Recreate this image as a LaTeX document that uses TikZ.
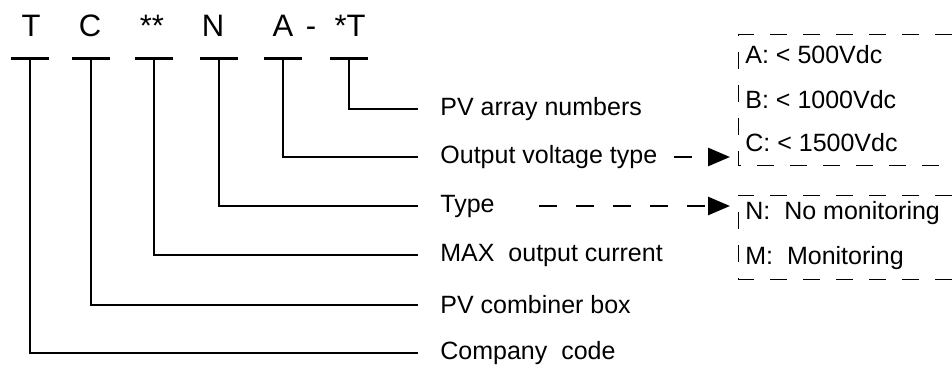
\documentclass[tikz,border=0pt]{standalone}
\usepackage{fontspec}
\setmainfont{Liberation Sans}
\usetikzlibrary{arrows.meta,positioning}
\tikzset{
  bar/.style={line width=1.5pt},
  lead/.style={line width=1.1pt},
  code/.style={font=\fontsize{15.5}{18}\selectfont,inner sep=0pt,anchor=base},
  lbl/.style={font=\fontsize{12.5}{15}\selectfont,inner sep=0pt,anchor=west},
  optbox/.style={dash pattern=on 8.5pt off 8pt,line width=.5pt},
  hint/.style={dash pattern=on 9pt off 9.5pt,line width=1.3pt,-{Triangle[length=11pt,width=9pt]}}
}
\begin{document}
\begin{tikzpicture}[x=.5pt,y=-.5pt]
\useasboundingbox (0,0) rectangle (952,369);
% model code
\node[code] (cT) at (31,37) {T};
\node[code] (cC) at (90,37) {C};
\node[code] (cS) at (152,37) {**};
\node[code] (cN) at (213,37) {N};
\node[code] (cA) at (283,37) {A};
\node[code] (cD) at (311,37) {-};
\node[code] (cP) at (350,37) {*T};
\foreach \x/\n in {30/T,91/C,154/S,219/N,283/A,349/P}{
  \draw[bar] (\x-19,59) -- (\x+19,59);
  \coordinate (b\n) at (\x,59);
}
% meanings
\node[lbl] (array) at (440,109) {PV array numbers};
\node[lbl] (volt) at (440,157) {Output voltage type};
\node[lbl] (type) at (440,206) {Type};
\node[lbl] (curr) at (440,255) {MAX~ output current};
\node[lbl] (box) at (440,305) {PV combiner box};
\node[lbl] (comp) at (440,353) {Company~ code};
\draw[lead] (bP) |- ([xshift=-11pt]array.west);
\draw[lead] (bA) |- ([xshift=-11pt]volt.west);
\draw[lead] (bN) |- ([xshift=-11pt]type.west);
\draw[lead] (bS) |- ([xshift=-11pt]curr.west);
\draw[lead] (bC) |- ([xshift=-11pt]box.west);
\draw[lead] (bT) |- ([xshift=-11pt]comp.west);
% option boxes
\draw[optbox] (952,35) -- (738,35) -- (738,165) -- (952,165);
\draw[optbox] (952,195) -- (738,195) -- (738,279) -- (952,279);
\coordinate (vin) at (738,157);
\coordinate (tin) at (738,206);
\node[lbl] (optA) at (745,55) {A: < 500Vdc};
\node[lbl] (optB) at (745,100) {B: < 1000Vdc};
\node[lbl] (optC) at (745,143) {C: < 1500Vdc};
\node[lbl] (optN) at (745,213) {N:~ No monitoring};
\node[lbl] (optM) at (745,258) {M:~ Monitoring};
\draw[hint,shorten >=4pt] ([xshift=8pt]volt.east) -- (vin);
\draw[hint,shorten >=4pt] ([xshift=22pt]type.east) -- (tin);
\end{tikzpicture}
\end{document}
